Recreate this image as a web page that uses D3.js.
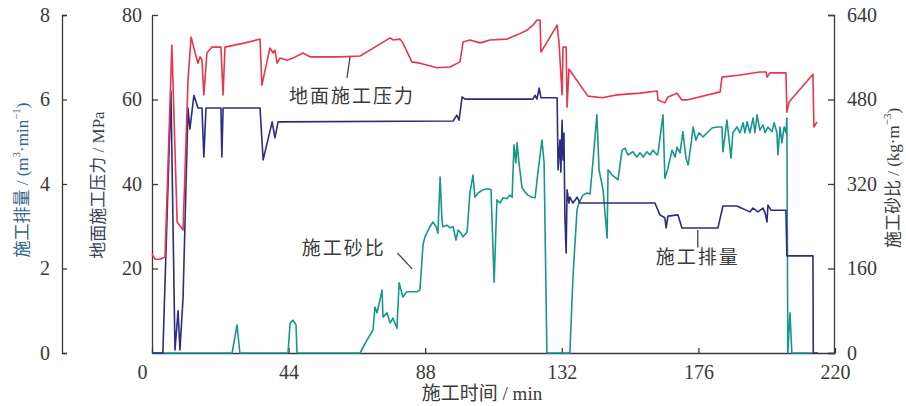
<!DOCTYPE html>
<html>
<head>
<meta charset="utf-8">
<script src="https://cdn.jsdelivr.net/npm/d3@7"></script>
<style>
  html, body { margin: 0; padding: 0; background: #fff; }
  svg { display: block; }
</style>
</head>
<body>
<svg id="chart" width="906" height="406"></svg>
<script>
// ---------------- DATA ----------------
const timeTicks = [0, 44, 88, 132, 176, 220];
const pressureTicks = [0, 20, 40, 60, 80];
const rateTicks = [0, 2, 4, 6, 8];
const sandTicks = [0, 160, 320, 480, 640];

// 地面施工压力 (MPa) : [time(min), value]
const pressureData = [
  [0,23.4],[1.0,22.2],[2.6,22.2],[4.2,22.7],[6.4,72.9],[8.1,31.0],[10.0,29.1],[11.6,64.6],
  [12.6,74.8],[13.9,71.0],[14.8,68.6],[15.5,70.1],[16.1,69.3],[16.7,61.1],[17.7,71.0],[19.3,72.4],
  [22.2,72.4],[22.9,61.1],[23.5,72.4],[30.0,73.4],[34.8,74.3],[35.4,63.4],[38.0,72.2],[39.0,71.0],
  [39.6,71.7],[40.3,68.6],[41.2,69.8],[43.5,69.3],[45.4,69.8],[48.6,71.0],[50.9,70.1],[60.6,70.1],
  [67.0,70.3],[70.2,71.7],[73.4,73.1],[76.7,74.6],[77.6,74.1],[79.9,74.3],[80.8,73.4],[83.7,68.9],
  [86.3,68.6],[91.8,67.5],[96.0,67.7],[99.2,68.9],[100.2,73.6],[102.4,74.1],[105.7,73.4],[108.9,74.1],
  [114.3,74.3],[117.6,75.3],[120.8,76.4],[122.7,77.6],[124.0,78.8],[125.0,78.8],[125.3,71.2],[130.5,77.6],
  [131.1,73.4],[132.1,61.1],[132.4,72.4],[133.4,72.4],[133.7,58.2],[134.3,67.2],[140.4,60.8],[145.0,60.4],
  [149.8,61.1],[157.2,61.5],[162.7,62.0],[163.0,59.9],[165.2,59.2],[166.2,60.6],[169.1,61.5],[170.7,59.9],
  [172.3,59.9],[183.0,61.8],[183.6,65.3],[189.4,65.8],[195.8,66.5],[197.8,66.5],[198.1,65.3],[199.1,66.3],
  [204.2,66.3],[204.5,57.0],[205.2,59.4],[212.9,66.0],[213.2,53.5],[214.2,54.7]
];

// 施工排量 (m3/min) : [time(min), value]
const rateData = [
  [0,0],[3.5,0],[6.1,6.2],[7.4,0.07],[8.4,1.0],[9.0,0.07],[10.0,1.3],[11.6,5.8],[12.2,5.3],
  [13.5,6.1],[14.8,5.8],[16.1,5.8],[16.7,4.64],[17.4,5.8],[22.2,5.8],[22.5,4.64],[22.9,5.8],
  [34.8,5.8],[35.8,4.57],[36.7,4.85],[38.7,5.47],[39.6,5.09],[40.6,5.47],[97.0,5.49],[98.2,5.63],
  [98.9,5.51],[99.9,6.06],[100.8,6.01],[122.7,6.01],[123.4,6.1],[124.0,6.01],[124.7,6.27],[125.3,6.04],
  [130.5,6.04],[130.8,4.33],[131.4,5.04],[131.7,4.28],[132.1,5.51],[132.4,4.57],[132.7,5.2],[133.0,3.22],
  [133.4,2.37],[133.7,3.86],[134.3,3.55],[134.6,3.69],[135.6,3.55],[136.3,3.62],[136.9,3.69],[137.9,3.55],
  [162.0,3.55],[163.6,3.27],[165.2,3.2],[165.6,2.96],[166.2,3.24],[169.4,3.27],[170.7,2.96],[182.3,2.96],
  [183.9,3.48],[188.4,3.48],[192.6,3.34],[193.6,3.43],[195.2,3.34],[196.8,3.43],[197.5,3.31],[198.1,3.1],
  [198.4,3.5],[199.4,3.38],[204.2,3.38],[204.5,2.3],[212.9,2.3],[213.0,0],[214.5,0]
];

// 施工砂比 (kg/m3) : [time(min), value]
const sandData = [
  [0,0],[25.8,0],[27.4,53],[28.3,0],[43.8,0],[44.5,57],[45.4,62],[46.4,53],[46.7,0],[67.0,0],
  [69.3,25],[71.2,44],[71.8,87],[72.5,76],[73.4,100],[74.1,119],[74.4,68],[75.7,76],[76.7,57],
  [77.6,66],[78.9,47],[79.6,133],[80.8,106],[82.1,116],[83.7,116],[85.4,116],[86.3,119],[87.3,205],
  [87.9,220],[89.5,239],[90.5,248],[91.5,239],[92.1,227],[92.8,333],[93.4,252],[93.7,239],[95.0,242],
  [96.0,237],[97.0,239],[97.9,214],[98.6,233],[99.5,227],[100.2,220],[101.5,229],[102.4,303],[103.4,337],
  [104.0,295],[105.0,303],[106.6,309],[108.2,311],[109.2,309],[110.2,134],[111.1,290],[112.1,284],
  [113.1,294],[114.3,292],[115.3,299],[116.0,295],[116.6,394],[117.2,360],[117.6,398],[118.2,360],
  [119.2,313],[120.1,305],[121.1,299],[122.4,295],[123.4,294],[124.3,341],[125.6,403],[126.3,360],
  [127.2,0],[134.6,0],[135.6,144],[136.9,271],[137.5,284],[138.8,299],[140.1,303],[141.1,301],[142.0,360],
  [143.3,451],[144.0,347],[145.3,309],[146.6,218],[146.9,347],[148.2,337],[149.1,333],[150.1,328],
  [150.4,341],[151.4,384],[152.4,388],[153.3,375],[154.9,381],[156.2,371],[157.2,379],[158.2,371],
  [159.4,381],[160.4,375],[161.4,384],[162.7,375],[163.0,379],[164.6,451],[165.2,331],[166.2,350],
  [167.5,384],[168.5,371],[169.1,390],[170.1,379],[171.0,419],[172.0,369],[172.7,356],[173.6,394],
  [174.3,428],[175.2,403],[176.2,417],[177.5,409],[178.8,417],[180.4,426],[182.0,428],[183.6,428],
  [183.9,381],[185.2,441],[186.5,369],[187.1,417],[188.4,428],[189.4,417],[190.4,436],[191.0,417],
  [191.7,438],[192.6,417],[193.6,445],[194.2,417],[194.9,451],[195.8,422],[196.8,432],[197.5,417],
  [198.4,428],[199.7,419],[200.4,436],[201.3,417],[201.6,375],[202.3,428],[202.9,398],[203.6,428],
  [204.2,417],[204.5,445],[204.8,0],[205.5,76],[206.1,0],[212.6,0]
];

// ---------------- CHART ----------------
const svg = d3.select("#chart");
const plotLeft = 152, plotRight = 835, plotTop = 15, plotBottom = 353;

const x = d3.scaleLinear().domain([0, 220]).range([plotLeft, plotRight]);
const yP = d3.scaleLinear().domain([0, 80]).range([plotBottom, plotTop]);
const yR = d3.scaleLinear().domain([0, 8]).range([plotBottom, plotTop]);
const yS = d3.scaleLinear().domain([0, 640]).range([plotBottom, plotTop]);

const numFont = "'Liberation Serif', 'Times New Roman', serif";
const cjkFont = "'Liberation Serif', 'Noto Sans CJK SC', serif";
const axisColor = "#3a3a3a";
const textColor = "#3a3a3a";

function styleAxis(g) {
  g.selectAll("path.domain").attr("stroke", axisColor).attr("stroke-width", 1.3);
  g.selectAll(".tick line").attr("stroke", axisColor).attr("stroke-width", 1.3);
  g.selectAll(".tick text").attr("fill", textColor)
    .style("font-family", numFont).style("font-size", "20px");
}

// outer left axis (rate)
svg.append("g").attr("transform", "translate(62,0)")
  .call(d3.axisLeft(yR).tickValues(rateTicks).tickSize(-5).tickSizeOuter(-5).tickPadding(12))
  .call(styleAxis);

// inner left axis (pressure)
svg.append("g").attr("transform", `translate(${plotLeft},0)`)
  .call(d3.axisLeft(yP).tickValues(pressureTicks.filter(d => d > 0)).tickSize(-6).tickSizeOuter(0).tickPadding(10))
  .call(styleAxis);

// right axis (sand ratio)
svg.append("g").attr("transform", `translate(${plotRight - 1},0)`)
  .call(d3.axisRight(yS).tickValues(sandTicks).tickSize(-6).tickSizeOuter(-6).tickPadding(13))
  .call(styleAxis);

// bottom axis
const xg = svg.append("g").attr("transform", `translate(0,${plotBottom})`)
  .call(d3.axisBottom(x).tickValues(timeTicks).tickSize(-5).tickSizeOuter(0).tickPadding(12))
  .call(styleAxis);
xg.selectAll(".tick text").attr("dx", d => d === 0 ? -10 : 0);

// lines
const line = (ys) => d3.line().x(d => x(d[0])).y(d => ys(d[1]));

svg.append("path").datum(sandData)
  .attr("d", line(yS)).attr("fill", "none")
  .attr("stroke", "#17978b").attr("stroke-width", 1.6).attr("stroke-linejoin", "round");

svg.append("path").datum(rateData)
  .attr("d", line(yR)).attr("fill", "none")
  .attr("stroke", "#2e2b82").attr("stroke-width", 1.6).attr("stroke-linejoin", "round");

svg.append("path").datum(pressureData)
  .attr("d", line(yP)).attr("fill", "none")
  .attr("stroke", "#e8364c").attr("stroke-width", 1.6).attr("stroke-linejoin", "round");

// axis titles
function vLabel(cx, cy, parts, color) {
  const t = svg.append("text")
    .attr("transform", `translate(${cx},${cy}) rotate(-90)`)
    .attr("text-anchor", "middle").attr("dominant-baseline", "central")
    .attr("fill", color).style("font-family", cjkFont).style("font-size", "17px");
  parts.forEach(p => {
    const ts = t.append("tspan").text(p.t);
    if (p.sup) ts.attr("baseline-shift", "super").style("font-size", "11px");
  });
}
vLabel(22, 180, [{t:"施工排量 / (m"},{t:"3",sup:true},{t:"·min"},{t:"−1",sup:true},{t:")"}], "#2f6586");
vLabel(98, 185, [{t:"地面施工压力 / MPa"}], "#3a4258");
vLabel(893, 178, [{t:"施工砂比 / (kg·m"},{t:"−3",sup:true},{t:")"}], textColor);

svg.append("text").attr("x", 482).attr("y", 393)
  .attr("text-anchor", "middle").attr("dominant-baseline", "central")
  .attr("fill", textColor).style("font-family", cjkFont).style("font-size", "19px")
  .text("施工时间  / min");

// annotations
function annot(txt, tx, ty, x1, y1, x2, y2) {
  svg.append("line").attr("x1", x1).attr("y1", y1).attr("x2", x2).attr("y2", y2)
    .attr("stroke", "#444").attr("stroke-width", 1.3);
  svg.append("text").attr("x", tx).attr("y", ty)
    .attr("text-anchor", "middle").attr("dominant-baseline", "central")
    .attr("fill", textColor).style("font-family", cjkFont).style("font-size", "19px")
    .style("letter-spacing", "2px").text(txt);
}
annot("地面施工压力", x(64.4), yP(60.6), x(63.8), yP(70.1), x(62.8), yP(65.1));
annot("施工砂比", x(61.8), yP(24.8), x(79.0), yP(23.7), x(83.8), yP(19.9));
annot("施工排量", x(175.8), yP(22.5), x(175.8), yP(29.1), x(175.8), yP(25.0));
</script>
</body>
</html>
